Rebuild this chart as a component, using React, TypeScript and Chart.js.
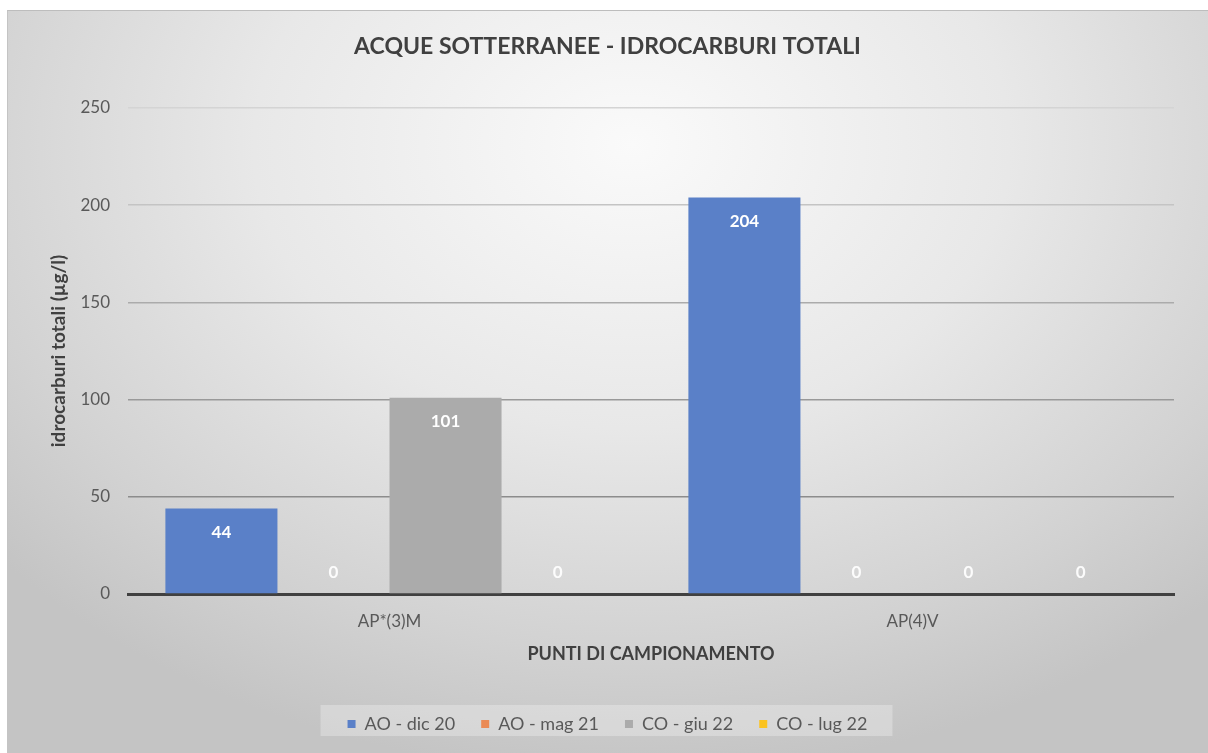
import React, { useEffect, useRef } from "react";
import { Chart, registerables } from "chart.js";

Chart.register(...registerables);

// ---- data ----
const CATEGORIES = ["AP*(3)M", "AP(4)V"];
const SERIES_NAMES = ["AO - dic 20", "AO - mag 21", "CO - giu 22", "CO - lug 22"];
const AO_DIC_20 = [44, 204];
const AO_MAG_21 = [0, 0];
const CO_GIU_22 = [101, 0];
const CO_LUG_22 = [0, 0];
const Y_MIN = 0;
const Y_MAX = 250;
const Y_STEP = 50;

const TITLE = "ACQUE SOTTERRANEE - IDROCARBURI TOTALI";
const Y_TITLE = "idrocarburi totali (µg/l)";
const X_TITLE = "PUNTI DI CAMPIONAMENTO";

// ---- styles ----
const FONT = 'Lato, "Open Sans", sans-serif';
const SERIES_COLORS = ["#5A80C8", "#EA8A55", "#ABABAB", "#FBC320"];

const gridShade = (v: number) => {
  if (v === 0) return "rgba(0,0,0,0)";
  if (v >= 250) return "#d4d4d4";
  if (v >= 200) return "#c4c4c4";
  if (v >= 150) return "#ababab";
  if (v >= 100) return "#999999";
  return "#8c8c8c";
};

const legendBox = {
  id: "legendBox",
  beforeDraw(chart: any) {
    const lg = chart.legend;
    const hb = lg && lg.legendHitBoxes;
    if (!hb || !hb.length) return;
    const first = hb[0];
    const last = hb[hb.length - 1];
    const cy = first.top + first.height / 2;
    const ctx = chart.ctx;
    ctx.save();
    ctx.fillStyle = "rgba(255,255,255,0.28)";
    ctx.fillRect(first.left - 27, cy - 19, last.left + last.width - first.left + 52, 31);
    ctx.restore();
  },
};

const barLabels = {
  id: "barLabels",
  afterDatasetsDraw(chart: any) {
    const ctx = chart.ctx;
    chart.data.datasets.forEach((ds: any, di: number) => {
      const meta = chart.getDatasetMeta(di);
      meta.data.forEach((el: any, i: number) => {
        const v = ds.data[i];
        const { x, y, base } = el.getProps(["x", "y", "base"], true);
        ctx.save();
        ctx.font = `bold 17px ${FONT}`;
        ctx.fillStyle = v > 0 ? "#ffffff" : "rgba(255,255,255,0.92)";
        ctx.textAlign = "center";
        ctx.textBaseline = "middle";
        ctx.fillText(String(v), x, v > 0 ? y + 24 : base - 21);
        ctx.restore();
      });
    });
  },
};

export default function App() {
  const ref = useRef<HTMLCanvasElement | null>(null);

  useEffect(() => {
    if (!ref.current) return;
    const seriesData = [AO_DIC_20, AO_MAG_21, CO_GIU_22, CO_LUG_22];
    const chart = new Chart(ref.current, {
      type: "bar",
      data: {
        labels: CATEGORIES,
        datasets: SERIES_NAMES.map((name, i) => ({
          label: name,
          data: seriesData[i],
          backgroundColor: SERIES_COLORS[i],
          borderWidth: 0,
          categoryPercentage: 0.857,
          barPercentage: 1.0,
        })),
      },
      options: {
        animation: false,
        responsive: false,
        layout: { padding: { left: 0, right: 0, top: 0, bottom: 10 } },
        plugins: {
          title: {
            display: true,
            text: TITLE,
            color: "#404040",
            font: { family: FONT, size: 23, weight: "bold" },
            padding: { top: 23, bottom: 47.4 },
          },
          legend: {
            display: true,
            position: "bottom",
            labels: {
              boxWidth: 8,
              boxHeight: 8,
              padding: 26,
              color: "#595959",
              font: { family: FONT, size: 18 },
            },
          },
          tooltip: { enabled: false },
        },
        scales: {
          x: {
            grid: { display: false, drawTicks: false },
            border: { display: true, color: "#404040", width: 3 },
            ticks: { color: "#595959", font: { family: FONT, size: 17 }, padding: 17 },
            title: {
              display: true,
              text: X_TITLE,
              color: "#404040",
              font: { family: FONT, size: 18, weight: "bold" },
              padding: { top: 0, bottom: 24 },
            },
            afterFit: (s: any) => {
              s.height = 95;
            },
          },
          y: {
            min: Y_MIN,
            max: Y_MAX,
            grid: {
              drawTicks: false,
              lineWidth: 1.5,
              color: (c: any) => gridShade(c.tick ? c.tick.value : 0),
            },
            border: { display: false },
            ticks: {
              stepSize: Y_STEP,
              color: "#595959",
              font: { family: FONT, size: 17 },
              padding: 18,
            },
            title: {
              display: true,
              text: Y_TITLE,
              color: "#404040",
              font: { family: FONT, size: 19, weight: "bold" },
              padding: { top: 40, bottom: 0 },
            },
            afterFit: (s: any) => {
              s.width = 121;
            },
          },
          yRight: {
            type: "linear",
            position: "right",
            display: true,
            min: Y_MIN,
            max: Y_MAX,
            grid: { display: false, drawOnChartArea: false, drawTicks: false },
            border: { display: false },
            ticks: { display: false },
            afterFit: (s: any) => {
              s.width = 34;
            },
          },
        },
      },
      plugins: [legendBox, barLabels],
    } as any);
    return () => chart.destroy();
  }, []);

  return (
    <div
      style={{
        position: "absolute",
        left: 7,
        top: 10,
        width: 1201,
        height: 743,
        background:
          "radial-gradient(ellipse 70% 85% at 52% 18%, #fafafa 0%, #e8e8e8 45%, #d2d2d2 80%, #c4c4c4 100%)",
        borderTop: "1px solid #bdbdbd",
        borderLeft: "1px solid #c4c4c4",
        boxSizing: "border-box",
        overflow: "hidden",
      }}
    >
      <canvas ref={ref} width={1201} height={743} style={{ display: "block", position: "absolute", left: -1, top: -1 }} />
    </div>
  );
}
